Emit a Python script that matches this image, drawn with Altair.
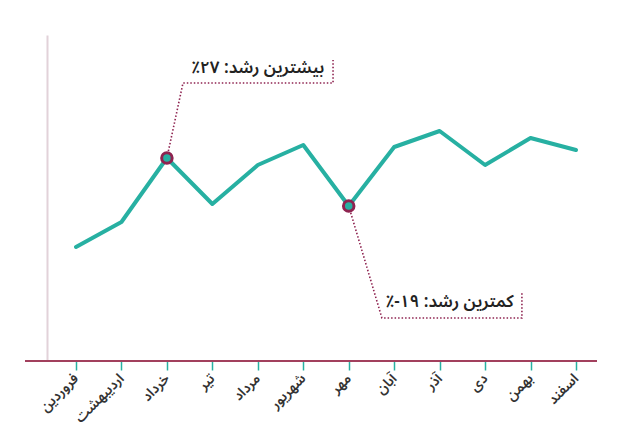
import altair as alt
import pandas as pd

# ---- data ----
months = ["فروردین", "اردیبهشت", "خرداد", "تیر", "مرداد", "شهریور",
          "مهر", "آبان", "آذر", "دی", "بهمن", "اسفند"]
month_idx = list(range(12))
values = [215, 240, 304, 258, 297, 317, 256, 315, 331, 297, 324, 312]
highlight_idx = [2, 6]

# annotation leader lines (x in month-index units, y in value units)
max_path_x = [2, 2.354, 5.655, 5.655]
max_path_y = [304, 379, 379, 402]
min_path_x = [6, 6.73, 9.81, 9.81]
min_path_y = [256, 144, 144, 169]

ann_labels = ["بیشترین رشد: ۲۷٪\u200f", "کمترین رشد: ۱۹-٪\u200f"]
ann_x = [4.0, 8.22]
ann_y = [394, 160]

# ---- styling ----
TEAL = "#27b0a2"
MAROON = "#8e2350"
AXIS_RED = "#a2405e"
FONT = "Noto Sans Arabic, DejaVu Sans, sans-serif"
W, H = 550, 326

df = pd.DataFrame({"i": month_idx, "month": months, "v": values})
hl = df[df["i"].isin(highlight_idx)]

paths = pd.DataFrame({
    "x": max_path_x + min_path_x,
    "y": max_path_y + min_path_y,
    "grp": ["max"] * len(max_path_x) + ["min"] * len(min_path_x),
    "ord": list(range(len(max_path_x))) + list(range(len(min_path_x))),
})
ann = pd.DataFrame({"x": ann_x, "y": ann_y, "t": ann_labels})

label_expr = "[" + ",".join("'" + m + "'" for m in months) + "][datum.value]"

xscale = alt.Scale(domain=[-0.638, 11.462], nice=False, zero=False)
yscale = alt.Scale(domain=[101, 427], nice=False, zero=False)

xaxis = alt.Axis(values=month_idx, labelExpr=label_expr, domain=False,
                 ticks=True, tickColor=TEAL, tickSize=9, tickWidth=1.5,
                 grid=False, labelAngle=315, labelAlign="right",
                 labelBaseline="middle", labelPadding=6, labelFont=FONT,
                 labelFontSize=14, labelFontWeight=600, labelColor="#333333",
                 labelOverlap=False, labelBound=False, title=None)
yaxis = alt.Axis(domain=True, domainColor="#e2d2d9", domainWidth=2,
                 labels=False, ticks=False, grid=False, title=None)

base_line = alt.Chart(df).mark_line(
    color=TEAL, strokeWidth=4, strokeCap="round", strokeJoin="round"
).encode(
    x=alt.X("i:Q", scale=xscale, axis=xaxis),
    y=alt.Y("v:Q", scale=yscale, axis=yaxis),
)

xaxis_rule = alt.Chart(df).mark_rule(color=AXIS_RED, strokeWidth=1.5).encode(
    x=alt.value(-22), x2=alt.value(W), y=alt.value(H)
)

leaders = alt.Chart(paths).mark_line(
    color=MAROON, strokeWidth=1.6, strokeDash=[1.5, 2]
).encode(
    x=alt.X("x:Q", scale=xscale),
    y=alt.Y("y:Q", scale=yscale),
    detail="grp:N",
    order="ord:Q",
)

markers = alt.Chart(hl).mark_point(
    shape="circle", filled=True, fill=TEAL, stroke=MAROON,
    strokeWidth=3, size=110, opacity=1
).encode(
    x=alt.X("i:Q", scale=xscale),
    y=alt.Y("v:Q", scale=yscale),
)

texts = alt.Chart(ann).mark_text(
    font=FONT, fontSize=17, fontWeight=600, color="#222222", align="center",
    baseline="middle"
).encode(
    x=alt.X("x:Q", scale=xscale),
    y=alt.Y("y:Q", scale=yscale),
    text="t:N",
)

chart = alt.layer(xaxis_rule, leaders, base_line, markers, texts).properties(
    width=W, height=H,
    autosize=alt.AutoSizeParams(type="none"),
    padding={"left": 47, "top": 35, "right": 44, "bottom": 74},
    background="white",
).configure_view(stroke=None)

chart.save("out.html", embed_options={"renderer": "svg", "actions": False})
